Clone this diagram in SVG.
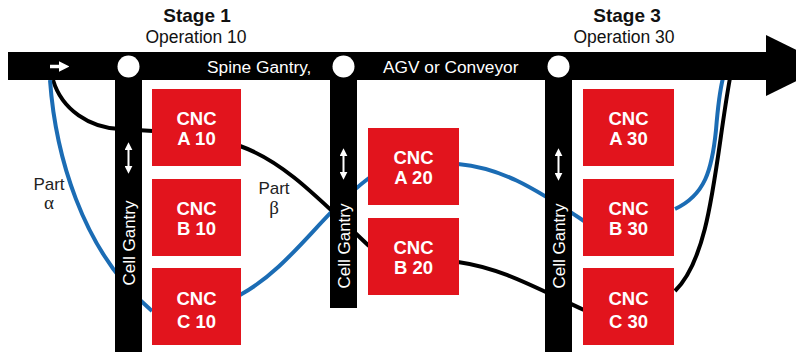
<svg xmlns="http://www.w3.org/2000/svg" width="796" height="352" viewBox="0 0 796 352">
<defs>
<style>
.t{font-family:"Liberation Sans",Arial,sans-serif;}
.stage{font-weight:bold;font-size:19px;fill:#111;text-anchor:middle;}
.op{font-size:17.5px;fill:#111;text-anchor:middle;}
.spine{font-size:17.3px;fill:#fff;}
.cnc{fill:#e2141d;}
.ct{font-weight:bold;font-size:18.5px;fill:#fff;text-anchor:middle;}
.gan{fill:#000;}
.gt{font-size:17px;fill:#fff;text-anchor:middle;}
.part{font-size:17px;fill:#222;text-anchor:middle;}
.greek{font-family:"Liberation Serif","DejaVu Serif",serif;font-size:19px;fill:#222;text-anchor:middle;}
.blue{fill:none;stroke:#1b6cb4;stroke-width:4;}
.black{fill:none;stroke:#000;stroke-width:4;}
.warrow{stroke:#fff;stroke-width:2;fill:none;}
.wthick{stroke:#fff;stroke-width:3.5;fill:none;}
</style>
<marker id="wh" viewBox="0 0 10 10" refX="4" refY="5" markerWidth="4" markerHeight="4" orient="auto-start-reverse" markerUnits="strokeWidth">
<path d="M0,0 L10,5 L0,10 z" fill="#fff"/>
</marker>
<marker id="wh2" viewBox="0 0 10 10" refX="4" refY="5" markerWidth="3" markerHeight="3" orient="auto" markerUnits="strokeWidth">
<path d="M0,0 L10,5 L0,10 z" fill="#fff"/>
</marker>
</defs>
<rect width="796" height="352" fill="#fff"/>

<g id="connectors">
<path class="black" d="M53 80 C62 110 90 128 120 129 L153 131"/>
<path class="black" d="M240 146 C285 162 320 200 369 246"/>
<path class="black" d="M458 262 C500 268 530 285 584 310"/>
<path class="black" d="M675 291 C712 255 715 160 730 78"/>
<path class="blue" d="M50 80 C55 150 80 250 152 311"/>
<path class="blue" d="M240 295 C290 268 320 215 369 178"/>
<path class="blue" d="M458 164 C500 168 530 185 584 221"/>
<path class="blue" d="M675 209 C705 195 712 170 716 130 C718 105 720 90 723 78"/>
</g>

<g id="spine">
<rect x="8" y="52" width="760" height="28" fill="#000"/>
<polygon points="766,35 828,65.5 766,96" fill="#000"/>
<line class="wthick" x1="50" y1="66.5" x2="63" y2="66.5" marker-end="url(#wh2)"/>
<text class="t spine" x="207" y="73">Spine Gantry,</text>
<text class="t spine" x="383" y="73">AGV or Conveyor</text>
</g>

<g id="stage1-label">
<text class="t stage" x="197" y="22">Stage 1</text>
<text class="t op" x="196" y="43">Operation 10</text>
</g>
<g id="stage3-label">
<text class="t stage" x="627" y="22">Stage 3</text>
<text class="t op" x="624" y="43">Operation 30</text>
</g>

<g id="gantry1">
<rect class="gan" x="115" y="66" width="27" height="286"/>
<circle cx="128.5" cy="66.5" r="11" fill="#fff"/>
<line class="warrow" x1="128.5" y1="147" x2="128.5" y2="169" marker-start="url(#wh)" marker-end="url(#wh)"/>
<text class="t gt" transform="translate(134.5 243) rotate(-90)">Cell Gantry</text>
</g>
<g id="gantry2">
<rect class="gan" x="330" y="66" width="27" height="242"/>
<circle cx="343.5" cy="66.5" r="11" fill="#fff"/>
<line class="warrow" x1="343.5" y1="153" x2="343.5" y2="175" marker-start="url(#wh)" marker-end="url(#wh)"/>
<text class="t gt" transform="translate(349.5 246) rotate(-90)">Cell Gantry</text>
</g>
<g id="gantry3">
<rect class="gan" x="545" y="66" width="27" height="286"/>
<circle cx="558.5" cy="66.5" r="11" fill="#fff"/>
<line class="warrow" x1="558.5" y1="153" x2="558.5" y2="176" marker-start="url(#wh)" marker-end="url(#wh)"/>
<text class="t gt" transform="translate(564.5 246) rotate(-90)">Cell Gantry</text>
</g>

<g id="cnc-a10"><rect class="cnc" x="152" y="89" width="89" height="77"/><text class="t ct" x="196.5" y="125">CNC</text><text class="t ct" x="196.5" y="145">A 10</text></g>
<g id="cnc-b10"><rect class="cnc" x="152" y="179" width="89" height="77"/><text class="t ct" x="196.5" y="215">CNC</text><text class="t ct" x="196.5" y="235">B 10</text></g>
<g id="cnc-c10"><rect class="cnc" x="152" y="268" width="89" height="77"/><text class="t ct" x="196.5" y="305">CNC</text><text class="t ct" x="196.5" y="328">C 10</text></g>

<g id="cnc-a20"><rect class="cnc" x="368" y="128" width="91" height="77"/><text class="t ct" x="413.5" y="164">CNC</text><text class="t ct" x="413.5" y="184">A 20</text></g>
<g id="cnc-b20"><rect class="cnc" x="368" y="218" width="91" height="77"/><text class="t ct" x="413.5" y="254">CNC</text><text class="t ct" x="413.5" y="274">B 20</text></g>

<g id="cnc-a30"><rect class="cnc" x="583" y="89" width="91" height="77"/><text class="t ct" x="628.5" y="125">CNC</text><text class="t ct" x="628.5" y="145">A 30</text></g>
<g id="cnc-b30"><rect class="cnc" x="583" y="179" width="91" height="77"/><text class="t ct" x="628.5" y="215">CNC</text><text class="t ct" x="628.5" y="235">B 30</text></g>
<g id="cnc-c30"><rect class="cnc" x="583" y="268" width="91" height="77"/><text class="t ct" x="628.5" y="305">CNC</text><text class="t ct" x="628.5" y="328">C 30</text></g>

<g id="part-alpha">
<text class="t part" x="49" y="190">Part</text>
<text class="greek" x="49" y="209">α</text>
</g>
<g id="part-beta">
<text class="t part" x="274" y="194">Part</text>
<text class="greek" x="274" y="214">β</text>
</g>
</svg>
